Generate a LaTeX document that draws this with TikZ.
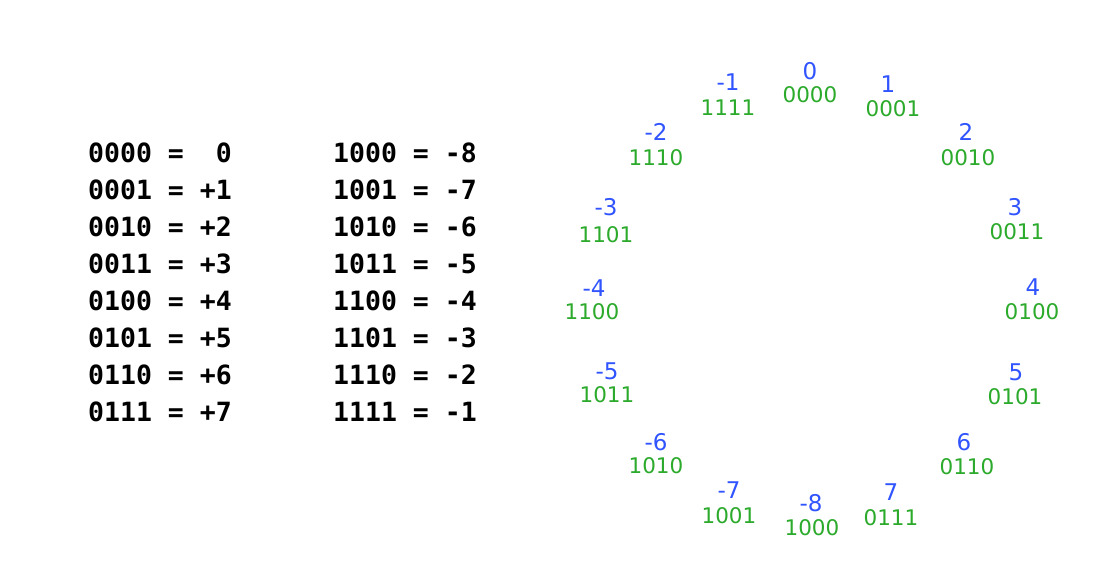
\documentclass[tikz,border=0pt]{standalone}
\usepackage{fontspec}
\setmainfont{DejaVu Sans}
\newfontfamily\tablefont{DejaVu Sans Mono}
\definecolor{numblue}{RGB}{48,84,255}
\definecolor{bingreen}{RGB}{44,170,44}
\begin{document}
\begin{tikzpicture}[x=1pt,y=-1pt,
  rowtxt/.style={anchor=west,inner sep=0pt,font=\tablefont\bfseries\fontsize{26.5}{26.5}\selectfont},
  numlab/.style={inner sep=0pt,text=numblue,font=\fontsize{23}{23}\selectfont},
  binlab/.style={inner sep=0pt,text=bingreen,font=\fontsize{21.5}{21.5}\selectfont}]
\useasboundingbox[fill=white] (0,0) rectangle (1117,576);
% table, left column
\node[rowtxt] (l0) at (88,153) {0000 = \phantom{+}0};
\node[rowtxt] (l1) at (88,190) {0001 = +1};
\node[rowtxt] (l2) at (88,227) {0010 = +2};
\node[rowtxt] (l3) at (88,264) {0011 = +3};
\node[rowtxt] (l4) at (88,301) {0100 = +4};
\node[rowtxt] (l5) at (88,338) {0101 = +5};
\node[rowtxt] (l6) at (88,375) {0110 = +6};
\node[rowtxt] (l7) at (88,412) {0111 = +7};
% table, right column
\node[rowtxt] (r0) at (333,153) {1000 = -8};
\node[rowtxt] (r1) at (333,190) {1001 = -7};
\node[rowtxt] (r2) at (333,227) {1010 = -6};
\node[rowtxt] (r3) at (333,264) {1011 = -5};
\node[rowtxt] (r4) at (333,301) {1100 = -4};
\node[rowtxt] (r5) at (333,338) {1101 = -3};
\node[rowtxt] (r6) at (333,375) {1110 = -2};
\node[rowtxt] (r7) at (333,412) {1111 = -1};
% circle
\node[numlab] (n0) at (810,71) {0};
\node[binlab] (b0) at (810,95) {0000};
\node[numlab] (n1) at (888,84) {1};
\node[binlab] (b1) at (893,109) {0001};
\node[numlab] (n2) at (966,132) {2};
\node[binlab] (b2) at (968,158) {0010};
\node[numlab] (n3) at (1015,207) {3};
\node[binlab] (b3) at (1017,232) {0011};
\node[numlab] (n4) at (1033,287) {4};
\node[binlab] (b4) at (1032,312) {0100};
\node[numlab] (n5) at (1016,372) {5};
\node[binlab] (b5) at (1015,397) {0101};
\node[numlab] (n6) at (964,442) {6};
\node[binlab] (b6) at (967,467) {0110};
\node[numlab] (n7) at (891,492) {7};
\node[binlab] (b7) at (891,518) {0111};
\node[numlab] (m8) at (811,503) {-8};
\node[binlab] (c8) at (812,528) {1000};
\node[numlab] (m7) at (729,490) {-7};
\node[binlab] (c7) at (729,516) {1001};
\node[numlab] (m6) at (656,442) {-6};
\node[binlab] (c6) at (656,466) {1010};
\node[numlab] (m5) at (607,371) {-5};
\node[binlab] (c5) at (607,395) {1011};
\node[numlab] (m4) at (594,288) {-4};
\node[binlab] (c4) at (592,312) {1100};
\node[numlab] (m3) at (606,207) {-3};
\node[binlab] (c3) at (606,235) {1101};
\node[numlab] (m2) at (656,132) {-2};
\node[binlab] (c2) at (656,158) {1110};
\node[numlab] (m1) at (728,82) {-1};
\node[binlab] (c1) at (728,108) {1111};
\end{tikzpicture}
\end{document}
